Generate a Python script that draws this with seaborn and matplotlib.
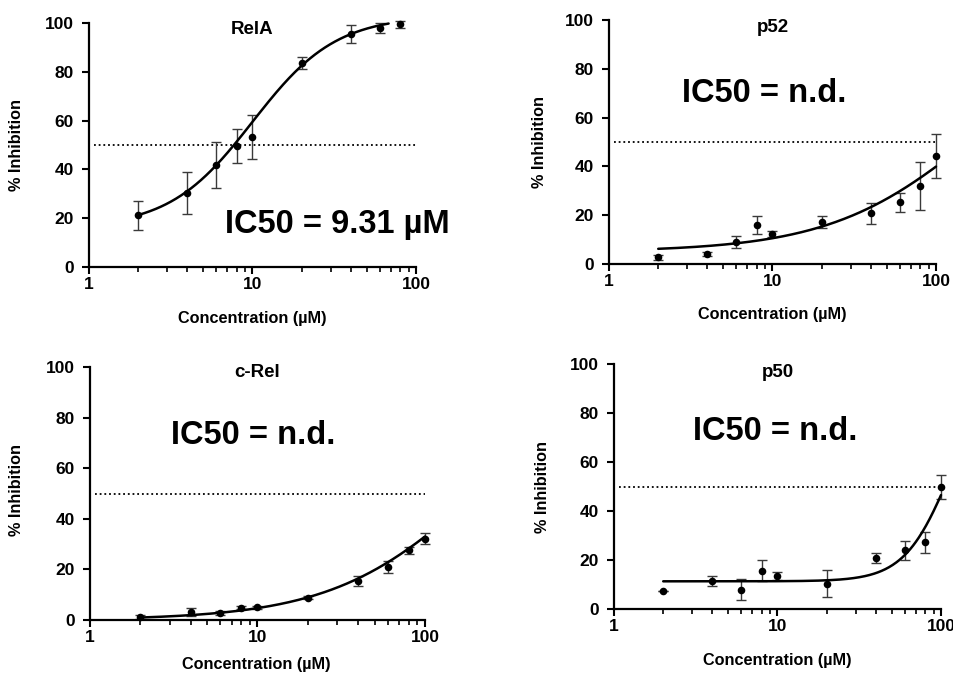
import numpy as np
import pandas as pd
import matplotlib
matplotlib.use("Agg")
import matplotlib.pyplot as plt
from matplotlib.ticker import LogLocator, FixedLocator, NullFormatter
import seaborn as sns

# ---------------- data ----------------
rela_conc = [2, 4, 6, 8, 10, 20, 40, 60, 80]
rela_mean = [21.2, 30.3, 41.9, 49.5, 53.4, 83.6, 95.5, 98.0, 99.5]
rela_err = [6.0, 8.7, 9.5, 7.0, 9.0, 2.3, 3.7, 2.0, 1.5]

p52_conc = [2, 4, 6, 8, 10, 20, 40, 60, 80, 100]
p52_mean = [2.7, 4.1, 9.0, 15.8, 12.3, 17.3, 20.7, 25.4, 32.0, 44.3]
p52_err = [1.1, 1.0, 2.6, 3.7, 1.4, 2.5, 4.3, 3.9, 10.0, 8.9]

crel_conc = [2, 4, 6, 8, 10, 20, 40, 60, 80, 100]
crel_mean = [1.3, 3.0, 2.8, 4.9, 5.0, 8.8, 15.5, 20.9, 27.5, 32.2]
crel_err = [0.8, 1.6, 0.7, 0.6, 0.5, 0.6, 2.0, 2.4, 1.5, 2.0]

p50_conc = [2, 4, 6, 8, 10, 20, 40, 60, 80, 100]
p50_mean = [7.3, 11.4, 7.9, 15.6, 13.6, 10.3, 20.8, 24.0, 27.2, 49.7]
p50_err = [0.0, 2.2, 4.3, 4.2, 1.7, 5.5, 2.0, 3.9, 4.3, 4.8]

# four-parameter logistic fit estimates: bottom, top, EC50, hill
rela_fit = [16.0, 103.0, 10.0, 1.7]
p52_fit = [5.0, 100.0, 175.0, 0.97]
crel_fit = [0.0, 100.0, 203.0, 1.0]
p50_fit = [11.3, 100.0, 114.6, 3.07]

# fitted-curve concentration range (start, end)
rela_range = [2, 68]
p52_range = [2, 100]
crel_range = [2, 100]
p50_range = [2, 100]

titles = ["RelA", "p52", "c-Rel", "p50"]
ic50_labels = ["IC50 = 9.31 µM", "IC50 = n.d.", "IC50 = n.d.", "IC50 = n.d."]
y_ticks = [0, 20, 40, 60, 80, 100]
x_ticks = [1, 10, 100]
x_tick_labels = ["1", "10", "100"]
ylabel = "% Inhibition"
xlabel = "Concentration (µM)"

# ---------------- style ----------------
sns.set_style("ticks")
plt.rcParams["font.family"] = ["Liberation Sans", "DejaVu Sans"]
plt.rcParams["font.weight"] = "bold"
plt.rcParams["text.color"] = "black"
plt.rcParams["xtick.color"] = "black"
plt.rcParams["ytick.color"] = "black"
plt.rcParams["axes.edgecolor"] = "black"

W, H = 954, 680
fig = plt.figure(figsize=(W / 100, H / 100), dpi=100)


def fx(px):
    return px / W


def fy(py):
    return 1 - py / H


def four_pl(x, p):
    b, t, c, h = p
    return b + (t - b) / (1 + (c / x) ** h)


panels = [
    dict(box=(89, 416, 23, 267), conc=rela_conc, mean=rela_mean, err=rela_err,
         fit=rela_fit, rng=rela_range, title_y=29, ic=(337, 225),
         ylab=(17, 145), xlab=(252, 318)),
    dict(box=(609, 936, 20, 264), conc=p52_conc, mean=p52_mean, err=p52_err,
         fit=p52_fit, rng=p52_range, title_y=27, ic=(764, 93),
         ylab=(540, 142), xlab=(772, 314)),
    dict(box=(90, 425, 367, 620), conc=crel_conc, mean=crel_mean, err=crel_err,
         fit=crel_fit, rng=crel_range, title_y=372, ic=(253, 435),
         ylab=(17, 490), xlab=(256, 665)),
    dict(box=(614, 941, 364, 609), conc=p50_conc, mean=p50_mean, err=p50_err,
         fit=p50_fit, rng=p50_range, title_y=372, ic=(775, 432),
         ylab=(543, 487), xlab=(777, 661)),
]

for i, p in enumerate(panels):
    l, r, t, b = p["box"]
    ax = fig.add_axes([fx(l), fy(b), fx(r) - fx(l), (b - t) / H])
    ax.set_xscale("log")
    ax.set_xlim(1, 100)
    ax.set_ylim(0, 100)

    # threshold line
    ax.axhline(50, xmin=0.015, xmax=1.0, color="black", lw=1.3,
               ls=(0, (1, 1.6)), zorder=1)

    # fitted curve
    xs = np.logspace(np.log10(p["rng"][0]), np.log10(p["rng"][1]), 300)
    curve = pd.DataFrame({"x": xs, "y": four_pl(xs, p["fit"])})
    sns.lineplot(data=curve, x="x", y="y", ax=ax, color="black", lw=1.8,
                 zorder=3, clip_on=False)

    # data points with error bars
    df = pd.DataFrame({"x": p["conc"], "y": p["mean"], "e": p["err"]})
    eb = ax.errorbar(df["x"], df["y"], yerr=df["e"], fmt="none",
                     ecolor="#3a3a3a", elinewidth=1.0, capsize=3.5,
                     capthick=1.0, zorder=2)
    for art in eb.lines[1] + eb.lines[2]:
        art.set_clip_on(False)
    sns.scatterplot(data=df, x="x", y="y", ax=ax, color="black", s=30,
                    edgecolor="black", linewidth=0, zorder=4, clip_on=False)

    ax.set_xlabel("")
    ax.set_ylabel("")
    for side in ["top", "right"]:
        ax.spines[side].set_visible(False)
    for side in ["left", "bottom"]:
        ax.spines[side].set_linewidth(1.6)
        ax.spines[side].set_color("black")

    ax.xaxis.set_major_locator(FixedLocator(x_ticks))
    ax.set_xticklabels(x_tick_labels)
    ax.xaxis.set_minor_locator(LogLocator(base=10, subs=np.arange(2, 10)))
    ax.xaxis.set_minor_formatter(NullFormatter())
    ax.set_yticks(y_ticks)
    ax.tick_params(axis="both", which="major", direction="out", length=5,
                   width=1.5, labelsize=12.5, color="black",
                   labelcolor="black")
    ax.tick_params(axis="x", which="major", pad=2)
    ax.tick_params(axis="y", which="major", pad=6)
    ax.tick_params(axis="x", which="minor", direction="out", length=3.5,
                   width=1.2, color="black")
    for lab in ax.get_xticklabels() + ax.get_yticklabels():
        lab.set_fontweight("bold")

    # texts
    fig.text(fx((l + r) / 2), fy(p["title_y"]), titles[i], ha="center",
             va="center", fontsize=13.5, fontweight="bold", color="black")
    fig.text(fx(p["ic"][0]), fy(p["ic"][1]), ic50_labels[i], ha="center",
             va="center", fontsize=23.5, fontweight="bold", color="black")
    fig.text(fx(p["ylab"][0]), fy(p["ylab"][1]), ylabel, ha="center",
             va="center", rotation=90, fontsize=11.7, fontweight="bold",
             color="black")
    fig.text(fx(p["xlab"][0]), fy(p["xlab"][1]), xlabel, ha="center",
             va="center", fontsize=11.7, fontweight="bold", color="black")

fig.savefig("out.png", dpi=100, facecolor="white")
